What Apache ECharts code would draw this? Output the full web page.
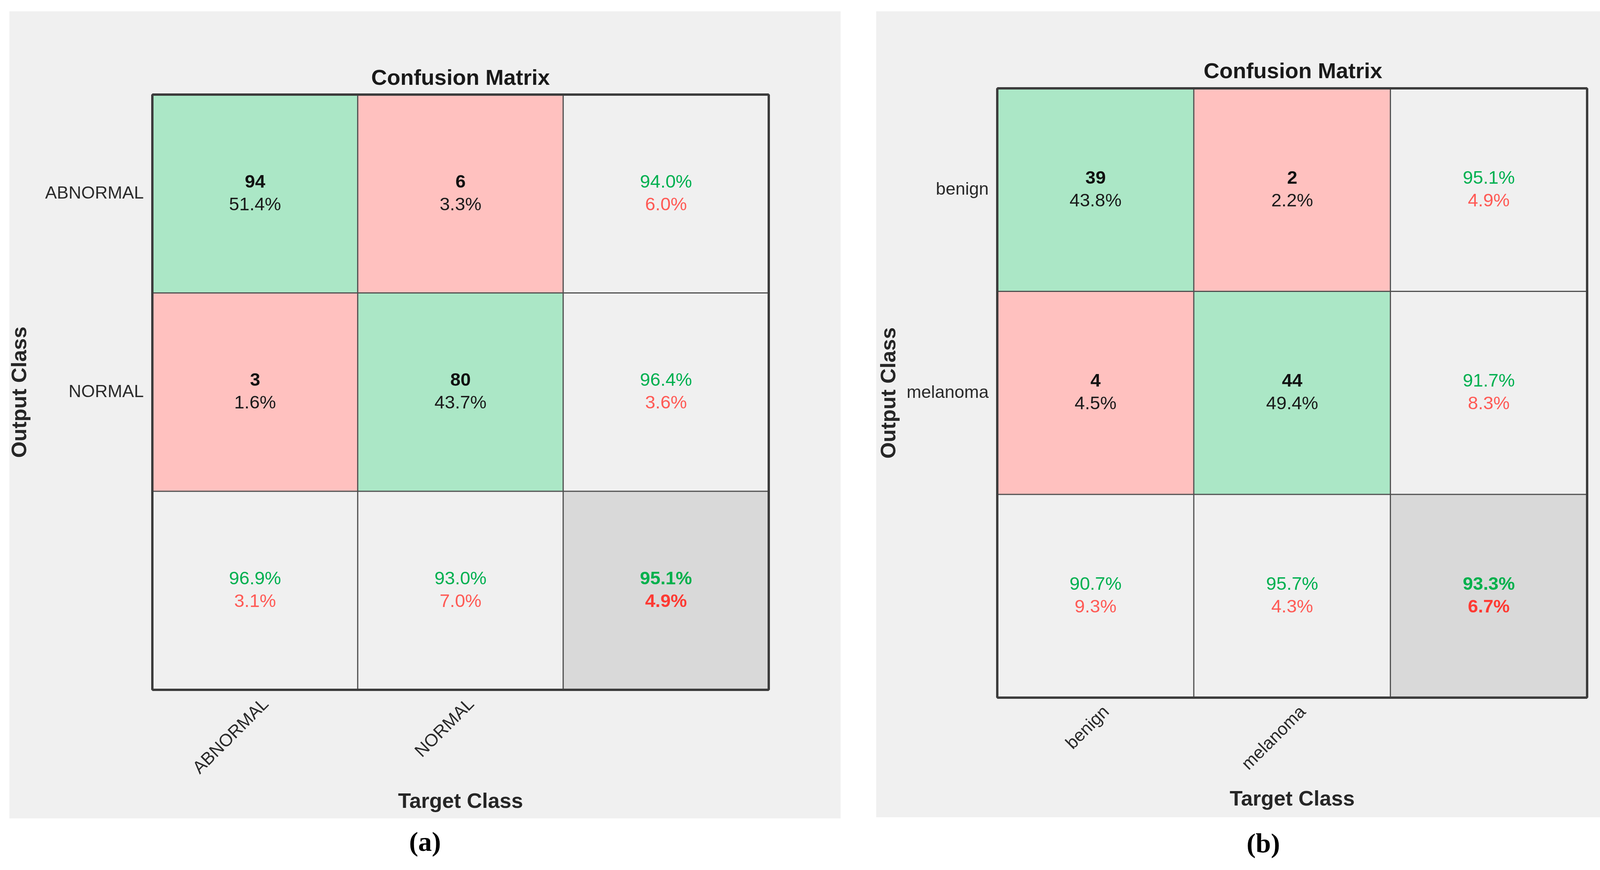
<!DOCTYPE html>
<html>
<head>
<meta charset="utf-8">
<script src="https://cdn.jsdelivr.net/npm/echarts@6/dist/echarts.min.js"></script>
<style>
html,body{margin:0;padding:0;background:#fff;}
#chart{width:4261px;height:2226px;}
</style>
</head>
<body>
<div id="chart"></div>
<script>
// (a) rows = output class, cols = target class
const classesA = ['ABNORMAL', 'NORMAL'];
const countsA = [[94, 6], [3, 80]];
const cellPctA = [[51.4, 3.3], [1.6, 43.7]];
const rowOkA = [94.0, 96.4];
const rowErrA = [6.0, 3.6];
const colOkA = [96.9, 93.0];
const colErrA = [3.1, 7.0];
const totalA = [95.1, 4.9];

// (b)
const classesB = ['benign', 'melanoma'];
const countsB = [[39, 2], [4, 44]];
const cellPctB = [[43.8, 2.2], [4.5, 49.4]];
const rowOkB = [95.1, 91.7];
const rowErrB = [4.9, 8.3];
const colOkB = [90.7, 95.7];
const colErrB = [9.3, 4.3];
const totalB = [93.3, 6.7];

const SANS = "'Liberation Sans', Arial, Helvetica, sans-serif";
const SERIF = "'Liberation Serif', 'Times New Roman', serif";
const GREEN = '#abe7c6', RED = '#ffc1bf', SUM = '#f0f0f0', TOT = '#d9d9d9';

const pct = v => v.toFixed(1) + '%';

function buildCells(counts, cellPct, rowOk, rowErr, colOk, colErr, total){
    const n = counts.length;
    const cells = [];
    for(let r=0;r<n;r++){
        for(let c=0;c<n;c++){
            cells.push({
                value:[c, r, counts[r][c]],
                txt:'{num|'+counts[r][c]+'}\n{pc|'+pct(cellPct[r][c])+'}',
                itemStyle:{color: r===c?GREEN:RED}
            });
        }
        cells.push({
            value:[n, r, rowOk[r]],
            txt:'{ok|'+pct(rowOk[r])+'}\n{err|'+pct(rowErr[r])+'}',
            itemStyle:{color:SUM}
        });
    }
    for(let c=0;c<n;c++){
        cells.push({
            value:[c, n, colOk[c]],
            txt:'{ok|'+pct(colOk[c])+'}\n{err|'+pct(colErr[c])+'}',
            itemStyle:{color:SUM}
        });
    }
    cells.push({
        value:[n, n, total[0]],
        txt:'{okb|'+pct(total[0])+'}\n{errb|'+pct(total[1])+'}',
        itemStyle:{color:TOT}
    });
    return cells;
}

const rich = {
    num:{fontFamily:SANS,fontSize:47,fontWeight:'bold',color:'#111',lineHeight:58},
    pc:{fontFamily:SANS,fontSize:47,color:'#1a1a1a',lineHeight:58},
    ok:{fontFamily:SANS,fontSize:47,color:'#00b050',lineHeight:58},
    err:{fontFamily:SANS,fontSize:47,color:'#ff5a55',lineHeight:58},
    okb:{fontFamily:SANS,fontSize:47,fontWeight:'bold',color:'#00b04c',lineHeight:58},
    errb:{fontFamily:SANS,fontSize:47,fontWeight:'bold',color:'#ff3a33',lineHeight:58}
};

const sepLine = {show:true, interval:(i)=>i===2, lineStyle:{color:'#3c3c3c',width:6}};
const nameStyle = {fontFamily:SANS,fontSize:54,fontWeight:'bold',color:'#262626'};
const tickStyle = {fontFamily:SANS,fontSize:45,color:'#2a2a2a'};

function xAx(idx, classes, gap){
    return {
        type:'category', gridIndex:idx, data:classes.concat(['']), boundaryGap:true, z:5,
        axisLine:{show:false}, axisTick:{show:false},
        axisLabel:Object.assign({rotate:45, margin:58, interval:0, padding:[0,-40,0,0]}, tickStyle),
        splitLine:sepLine,
        name:'Target Class', nameLocation:'middle', nameGap:gap, nameTextStyle:nameStyle
    };
}
function yAx(idx, classes, gap){
    return {
        type:'category', gridIndex:idx, data:classes.concat(['']), inverse:true, z:5,
        axisLine:{show:false}, axisTick:{show:false},
        axisLabel:Object.assign({margin:22, interval:0}, tickStyle),
        splitLine:sepLine,
        name:'Output Class', nameLocation:'middle', nameGap:gap, nameTextStyle:nameStyle
    };
}
function heat(idx, data){
    return {
        type:'heatmap', xAxisIndex:idx, yAxisIndex:idx, data:data,
        itemStyle:{borderColor:'#505050', borderWidth:3},
        emphasis:{disabled:true},
        label:{show:true, formatter:p=>p.data.txt, rich:rich}
    };
}
function caption(letter, x, y){
    return {
        text:'{p|(}{q|' + letter + '}{p|)}',
        left:x, top:y, textAlign:'center', padding:0,
        textStyle:{rich:{
            p:{fontFamily:SERIF,fontSize:70,color:'#000'},
            q:{fontFamily:SERIF,fontSize:70,fontWeight:'bold',color:'#000'}
        }}
    };
}
const titleStyle = {fontFamily:SANS,fontSize:56,fontWeight:'bold',color:'#1a1a1a'};

const chart = echarts.init(document.getElementById('chart'));
chart.setOption({
    animation:false,
    backgroundColor:'#ffffff',
    graphic:[
        {type:'rect', z:-10, shape:{x:24,y:29,width:2128,height:2065}, style:{fill:'#f0f0f0'}},
        {type:'rect', z:-10, shape:{x:2243,y:29,width:1995,height:2062}, style:{fill:'#f0f0f0'}}
    ],
    title:[
        {text:'Confusion Matrix', left:1179, top:174, textAlign:'center', padding:0, textStyle:titleStyle},
        {text:'Confusion Matrix', left:3310, top:157, textAlign:'center', padding:0, textStyle:titleStyle},
        caption('a', 1088, 2124),
        caption('b', 3234, 2128)
    ],
    grid:[
        {left:390, top:242, width:1578, height:1523, outerBoundsMode:'none'},
        {left:2553, top:226, width:1510, height:1559, outerBoundsMode:'none'}
    ],
    xAxis:[xAx(0, classesA, 260), xAx(1, classesB, 234)],
    yAxis:[yAx(0, classesA, 311), yAx(1, classesB, 249)],
    series:[
        heat(0, buildCells(countsA, cellPctA, rowOkA, rowErrA, colOkA, colErrA, totalA)),
        heat(1, buildCells(countsB, cellPctB, rowOkB, rowErrB, colOkB, colErrB, totalB))
    ]
});
</script>
</body>
</html>
